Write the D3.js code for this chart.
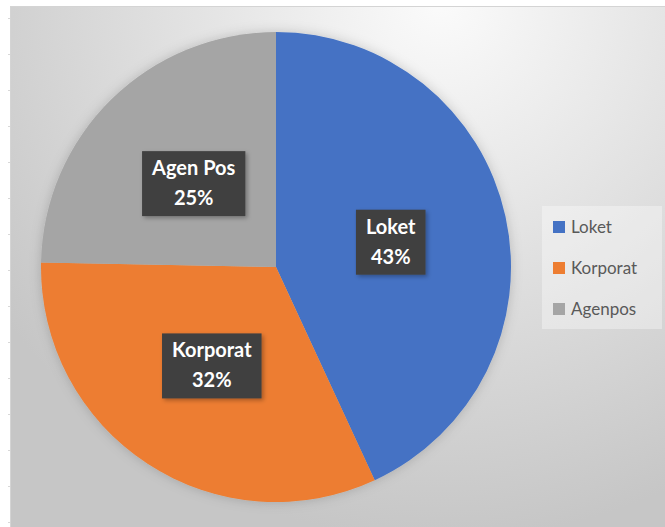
<!DOCTYPE html>
<html>
<head>
<meta charset="utf-8">
<script src="https://cdn.jsdelivr.net/npm/d3@7"></script>
<style>
  body { margin: 0; background: #ffffff; }
  svg { display: block; }
</style>
</head>
<body>
<div id="chart"></div>
<script>
const width = 665;
const height = 527;

// data
const categories = ["Loket", "Korporat", "Agenpos"];
const sliceLabels = ["Loket", "Korporat", "Agen Pos"];
const shares = [43.1, 32.2, 24.7];
const colors = ["#4472C4", "#ED7D31", "#A5A5A5"];

const cx = 276;
const cy = 267;
const radius = 235;

const svg = d3
  .select("#chart")
  .append("svg")
  .attr("width", width)
  .attr("height", height);

const defs = svg.append("defs");

const bg = defs
  .append("radialGradient")
  .attr("id", "bg")
  .attr("gradientUnits", "userSpaceOnUse")
  .attr("cx", 440)
  .attr("cy", 0)
  .attr("r", 540);
bg.append("stop").attr("offset", "0%").style("stop-color", "#fbfbfb");
bg.append("stop").attr("offset", "100%").style("stop-color", "#c6c6c6");

const shadow = defs.append("filter").attr("id", "shadow")
  .attr("x", "-20%").attr("y", "-20%").attr("width", "140%").attr("height", "140%");
shadow.append("feDropShadow")
  .attr("dx", 0).attr("dy", 0).attr("stdDeviation", 6)
  .attr("flood-color", "#000").attr("flood-opacity", 0.18);

const boxShadow = defs.append("filter").attr("id", "boxShadow")
  .attr("x", "-20%").attr("y", "-20%").attr("width", "150%").attr("height", "150%");
boxShadow.append("feDropShadow")
  .attr("dx", 2).attr("dy", 2).attr("stdDeviation", 2)
  .attr("flood-color", "#000").attr("flood-opacity", 0.3);

// chart area
svg.append("rect")
  .attr("x", 10.5)
  .attr("y", 6.5)
  .attr("width", width)
  .attr("height", height)
  .attr("fill", "url(#bg)")
  .attr("stroke", "#d4d4d4");

// little sheet ticks on the left
svg.append("g")
  .selectAll("line")
  .data(d3.range(18, height, 36))
  .join("line")
  .attr("x1", 8).attr("x2", 10)
  .attr("y1", (d) => d + 0.5).attr("y2", (d) => d + 0.5)
  .attr("stroke", "#d8d8d8");

// pie
const pie = d3.pie().sort(null).value((d) => d)(shares);
const arc = d3.arc().innerRadius(0).outerRadius(radius);
const labelArc = d3.arc().innerRadius(radius / 2).outerRadius(radius / 2);

const layerPie = svg.append("g")
  .attr("transform", `translate(${cx}, ${cy})`);

layerPie.append("g")
  .attr("filter", "url(#shadow)")
  .selectAll("path")
  .data(pie)
  .join("path")
  .attr("d", arc)
  .attr("fill", (d, i) => colors[i]);

// labels
const total = d3.sum(shares);
const labels = layerPie.selectAll(".label")
  .data(pie)
  .join("g")
  .attr("class", "label")
  .attr("transform", (d) => {
    const c = labelArc.centroid(d);
    return `translate(${c[0]}, ${c[1]})`;
  });

labels.each(function (d, i) {
  const g = d3.select(this);
  const rect = g.append("rect").attr("fill", "#404040").attr("filter", "url(#boxShadow)");
  const t1 = g.append("text")
    .attr("text-anchor", "middle")
    .attr("y", -8)
    .attr("fill", "#ffffff")
    .style("font-family", "Lato, 'Open Sans', sans-serif")
    .style("font-weight", "bold")
    .style("font-size", "20px")
    .text(sliceLabels[i]);
  const t2 = g.append("text")
    .attr("text-anchor", "middle")
    .attr("y", 22)
    .attr("fill", "#ffffff")
    .style("font-family", "Lato, 'Open Sans', sans-serif")
    .style("font-weight", "bold")
    .style("font-size", "20px")
    .text(Math.round((d.data / total) * 100) + "%");
  const w = Math.max(t1.node().getComputedTextLength(), t2.node().getComputedTextLength()) + 20;
  rect.attr("x", -w / 2).attr("y", -32).attr("width", w).attr("height", 65);
});

// legend
const legend = svg.append("g");
legend.append("rect")
  .attr("x", 542)
  .attr("y", 206)
  .attr("width", 120)
  .attr("height", 123)
  .attr("fill", "#ffffff")
  .attr("fill-opacity", 0.35);

const yLegend = d3.scalePoint()
  .domain(categories)
  .range([227, 309]);

const items = legend.selectAll(".item")
  .data(categories)
  .join("g")
  .attr("class", "item")
  .attr("transform", (d) => `translate(553, ${yLegend(d)})`);

items.append("rect")
  .attr("x", 0)
  .attr("y", -6)
  .attr("width", 12)
  .attr("height", 12)
  .attr("fill", (d, i) => colors[i]);

items.append("text")
  .attr("x", 18)
  .attr("y", 6)
  .attr("fill", "#595959")
  .style("font-family", "Lato, 'Open Sans', sans-serif")
  .style("font-size", "17px")
  .text((d) => d);
</script>
</body>
</html>
